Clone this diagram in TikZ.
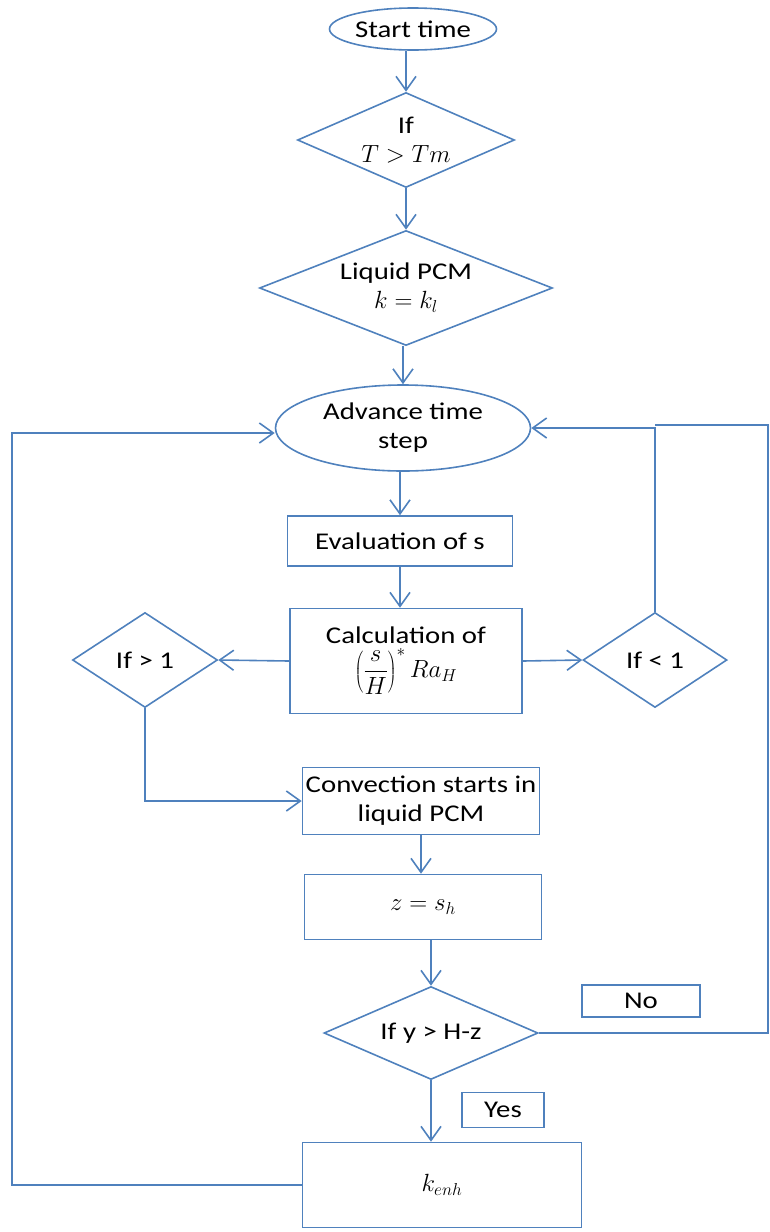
\documentclass[tikz,border=0pt]{standalone}
\usepackage{fontspec}
\setmainfont{Carlito}[FakeStretch=1.2]
\usetikzlibrary{shapes.geometric,arrows.meta}
\definecolor{flow}{RGB}{79,129,189}
\def\boxnode{\node[rectangle,draw=flow,line width=1.6pt,inner sep=2pt,align=center]}
\def\testnode{\node[diamond,draw=flow,line width=1.6pt,inner sep=0pt,align=center]}
\def\termnode{\node[ellipse,draw=flow,line width=1.6pt,inner sep=0pt,align=center]}

\begin{document}
\begin{tikzpicture}[x=1pt,y=-1pt,font=\fontsize{24}{29}\selectfont,
  flowline/.style={draw=flow,line width=1.6pt},
  go/.style={flowline,-{Straight Barb[length=14pt,width=20pt]}}]
\useasboundingbox (0,0) rectangle (770,1232);
\termnode[minimum width=167pt,minimum height=42pt] (start) at (413,29) {Start time};
\testnode[shape aspect=2.28,minimum width=217pt,minimum height=95pt] (ifT) at (406,140) {If\\$T > Tm$};
\testnode[shape aspect=2.55,minimum width=293pt,minimum height=115pt] (liquid) at (406,288) {Liquid PCM\\$k = k_l$};
\termnode[minimum width=255pt,minimum height=86pt] (advance) at (403,428) {Advance time\\step};
\boxnode[minimum width=225pt,minimum height=50pt] (evals) at (400,541) {Evaluation of s};
\boxnode[minimum width=232pt,minimum height=105pt] (calc) at (406,661) {Calculation of\\[4pt]$\displaystyle\left(\frac{s}{H}\right)^{*} Ra_{H}$};
\testnode[shape aspect=1.53,minimum width=145pt,minimum height=95pt] (ifgt) at (145,660) {If > 1};
\testnode[shape aspect=1.52,minimum width=144pt,minimum height=95pt] (iflt) at (655,660) {If < 1};
\boxnode[minimum width=237pt,minimum height=67pt] (conv) at (421,801) {Convection starts in\\liquid PCM};
\boxnode[minimum width=237pt,minimum height=65pt] (zsh) at (423,907) {$z = s_h$};
\testnode[shape aspect=2.3,minimum width=214pt,minimum height=93pt] (ify) at (431,1033) {If y > H-z};
\boxnode[minimum width=118pt,minimum height=32pt] (no) at (641,1001) {No};
\boxnode[minimum width=82pt,minimum height=35pt] (yes) at (503,1110) {Yes};
\boxnode[minimum width=279pt,minimum height=85pt] (kenh) at (442,1185) {$k_{enh}$};
\coordinate (rt) at (768,425);
\coordinate (lt) at (12,433);
\draw[go] (ifT.north |- start.south) to (ifT.north);
\draw[go] (ifT.south) to (liquid.north);
\draw[go] (advance.north |- liquid.south) to (advance.north);
\draw[go] (evals.north |- advance.south) to (evals.north);
\draw[go] (evals.south) to (evals.south |- calc.north);
\draw[go] (calc.west) to (ifgt.east);
\draw[go] (calc.east) to (iflt.west);
\draw[go] (iflt.north) |- (advance.east);
\draw[go] (ifgt.south) |- (conv.west);
\draw[go] (conv.south) to (conv.south |- zsh.north);
\draw[go] (ify.north |- zsh.south) to (ify.north);
\draw[flowline] (ify.east) -| (rt) to (iflt.north |- rt);
\draw[go] (ify.south) to (ify.south |- kenh.north);
\draw[go] (kenh.west) -| (lt) to (lt -| advance.west);
\end{tikzpicture}
\end{document}
